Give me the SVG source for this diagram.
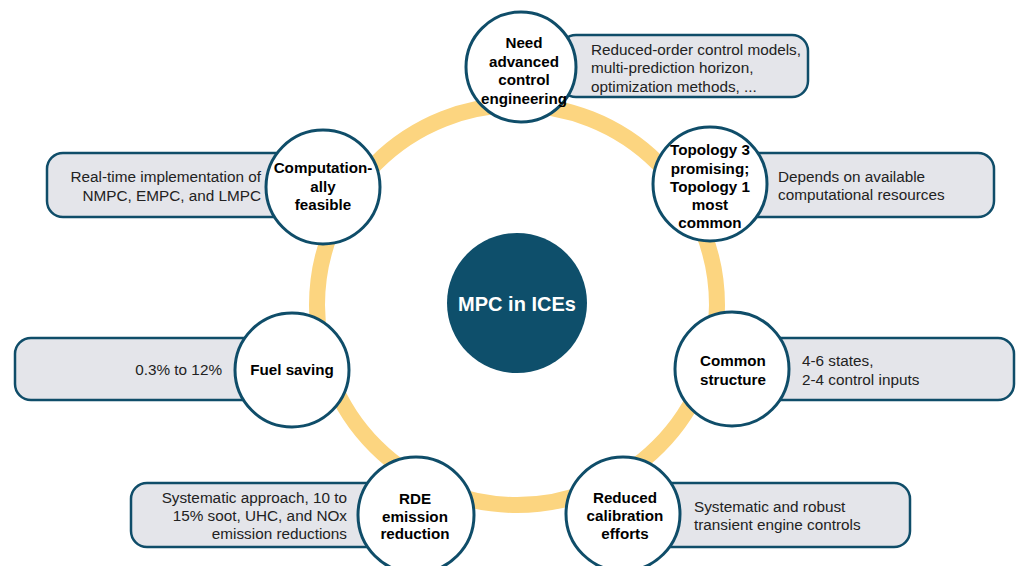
<svg xmlns="http://www.w3.org/2000/svg" width="1016" height="566" viewBox="0 0 1016 566">
<style>
.ring{fill:none;stroke:#FCD580;stroke-width:16}
.box{fill:#E4E5EA;stroke:#0F4D69;stroke-width:2.5}
.node{fill:#FFFFFF;stroke:#0F4D69;stroke-width:3}
.lbl{font-family:"Liberation Sans",Arial,sans-serif;font-weight:bold;font-size:15.2px;fill:#000;text-anchor:middle}
.txt{font-family:"Liberation Sans",Arial,sans-serif;font-size:15.3px;fill:#222}
.end{text-anchor:end}
</style>
<g id="connectors">
<circle class="ring" cx="517" cy="305" r="200"/>
</g>
<g id="center">
<circle cx="517" cy="303" r="70" fill="#0E4F6B"/>
<text x="517" y="311" font-family="Liberation Sans, Arial, sans-serif" font-weight="bold" font-size="20px" fill="#FFFFFF" text-anchor="middle">MPC in ICEs</text>
</g>
<g id="n-top">
<rect class="box" x="560" y="35" width="248" height="62" rx="16"/>
<circle class="node" cx="521" cy="67" r="55"/>
<text class="lbl" x="524" y="48">Need</text>
<text class="lbl" x="524" y="67">advanced</text>
<text class="lbl" x="524" y="85">control</text>
<text class="lbl" x="524" y="104">engineering</text>
<text class="txt" x="591" y="55">Reduced-order control models,</text>
<text class="txt" x="591" y="73">multi-prediction horizon,</text>
<text class="txt" x="591" y="92">optimization methods, ...</text>
</g>
<g id="n-comp">
<rect class="box" x="47" y="153" width="250" height="64" rx="16"/>
<circle class="node" cx="323" cy="187" r="57"/>
<text class="lbl" x="323" y="173">Computation-</text>
<text class="lbl" x="323" y="192">ally</text>
<text class="lbl" x="323" y="210">feasible</text>
<text class="txt end" x="261" y="182">Real-time implementation of</text>
<text class="txt end" x="261" y="201">NMPC, EMPC, and LMPC</text>
</g>
<g id="n-topo">
<rect class="box" x="700" y="153" width="294" height="64" rx="16"/>
<circle class="node" cx="710" cy="184" r="57"/>
<text class="lbl" x="710" y="155">Topology 3</text>
<text class="lbl" x="710" y="174">promising;</text>
<text class="lbl" x="710" y="192">Topology 1</text>
<text class="lbl" x="710" y="210">most</text>
<text class="lbl" x="710" y="228">common</text>
<text class="txt" x="778" y="182">Depends on available</text>
<text class="txt" x="778" y="200">computational resources</text>
</g>
<g id="n-fuel">
<rect class="box" x="15" y="338" width="265" height="62" rx="16"/>
<circle class="node" cx="292" cy="370" r="57"/>
<text class="lbl" x="292" y="375">Fuel saving</text>
<text class="txt end" x="222" y="375">0.3% to 12%</text>
</g>
<g id="n-common">
<rect class="box" x="740" y="338" width="274" height="62" rx="16"/>
<circle class="node" cx="732" cy="369" r="57"/>
<text class="lbl" x="733" y="366">Common</text>
<text class="lbl" x="733" y="385">structure</text>
<text class="txt" x="802" y="366">4-6 states,</text>
<text class="txt" x="802" y="385">2-4 control inputs</text>
</g>
<g id="n-rde">
<rect class="box" x="131" y="483" width="260" height="64" rx="16"/>
<circle class="node" cx="416" cy="515" r="58"/>
<text class="lbl" x="415" y="504">RDE</text>
<text class="lbl" x="415" y="522">emission</text>
<text class="lbl" x="415" y="539">reduction</text>
<text class="txt end" x="347" y="503">Systematic approach, 10 to</text>
<text class="txt end" x="347" y="521">15% soot, UHC, and NOx</text>
<text class="txt end" x="347" y="539">emission reductions</text>
</g>
<g id="n-calib">
<rect class="box" x="640" y="483" width="270" height="64" rx="16"/>
<circle class="node" cx="623" cy="514" r="57"/>
<text class="lbl" x="625" y="503">Reduced</text>
<text class="lbl" x="625" y="521">calibration</text>
<text class="lbl" x="625" y="539">efforts</text>
<text class="txt" x="694" y="512">Systematic and robust</text>
<text class="txt" x="694" y="530">transient engine controls</text>
</g>
</svg>
